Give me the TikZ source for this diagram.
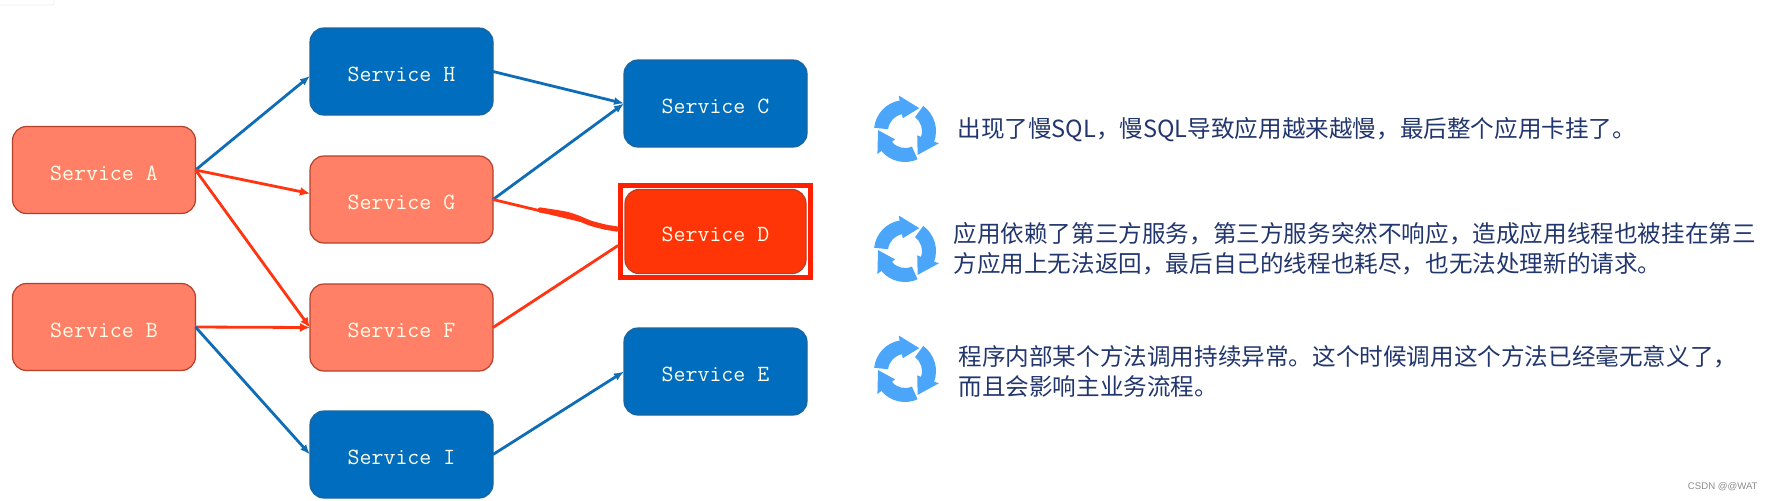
\documentclass[tikz,border=0pt]{standalone}
\usepackage{fontspec}
\setmonofont{Latin Modern Mono}
\newfontfamily\cjkfont{Noto Sans CJK SC}
\newfontfamily\markfont{Liberation Sans}
\usetikzlibrary{arrows.meta,positioning,fit}
\definecolor{svcblue}{HTML}{006DBE}
\definecolor{svcblueline}{HTML}{1A65A0}
\definecolor{svcorange}{HTML}{FF8066}
\definecolor{svcorangeline}{HTML}{B5402A}
\definecolor{svcred}{HTML}{FF3508}
\definecolor{lineblue}{HTML}{0F6DB8}
\definecolor{linered}{HTML}{FF3410}
\definecolor{framered}{HTML}{FF2000}
\definecolor{iconblue}{HTML}{4BA6FA}
\definecolor{textnavy}{HTML}{22366E}
\begin{document}
\begin{tikzpicture}[
				x=0.5pt, y=-0.5pt,
				box/.style={draw, rounded corners=7pt, minimum height=43.5pt, minimum width=91.5pt, outer sep=0pt, align=center, line width=0.6pt, text=white!92!yellow, text height=10pt, text depth=0pt, font=\ttfamily\fontsize{11.6}{13}\selectfont},
				bluebox/.style={box, fill=svcblue, draw=svcblueline},
				orangebox/.style={box, fill=svcorange, draw=svcorangeline},
				redbox/.style={box, fill=svcred, draw=svcorangeline, minimum height=42pt, minimum width=90.5pt},
				framebox/.style={draw=framered, line width=2.5pt, inner sep=2.2pt, outer sep=1.25pt},
				note/.style={anchor=west, align=left, inner sep=0pt, text=textnavy, font=\cjkfont\fontsize{11.8}{15}\selectfont},
				arrblue/.style={-{Latex[length=5pt,width=4pt]}, line width=1.4pt, draw=lineblue},
				arrred/.style={-{Latex[length=5pt,width=4.5pt]}, line width=1.4pt, draw=linered},
				linkred/.style={line width=1.4pt, draw=linered},
				scribble/.style={line width=2.6pt, draw=linered, line cap=round},
				cycleicon/.pic={
					\foreach \ang in {0,120,240} {
						\fill[iconblue, rotate=\ang] (174:15.5pt) arc[start angle=174, end angle=100, radius=15.5pt] -- (100:18pt) -- (58:13.5pt) -- (100:6.5pt) -- (100:8.5pt) arc[start angle=100, end angle=174, radius=8.5pt] -- cycle;
					}
				}
			]
				\useasboundingbox (0,0) rectangle (1769,500);
				\draw[gray!15, rounded corners=1pt] (-4,5) -- (54,5) -- (54,-4);
				
				\node[orangebox] (a) at (104,170) {Service A};
				\node[orangebox, below=35pt of a] (b) {Service B};
				\node[bluebox] (h) at (401.5,71.5) {Service H};
				\node[orangebox, below=20.5pt of h] (g) {Service G};
				\node[orangebox, below=20.5pt of g] (f) {Service F};
				\node[bluebox, below=20pt of f] (i) {Service I};
				\node[bluebox, right=65.5pt of h, yshift=-16pt] (c) {Service C};
				\node[redbox, right=66pt of g, yshift=-16pt] (d) {Service D};
				\node[bluebox, right=65.5pt of f, yshift=-22pt] (e) {Service E};
				\node[framebox, fit=(d)] (dframe) {};
				
				\draw[arrblue] (a.east) -- ([yshift=-2.2pt]h.west);
				\draw[arrred] (a.east) -- ([yshift=3pt]g.west);
				\draw[arrred] (a.east) -- (f.west);
				\draw[arrred] (b.east) -- (f.west);
				\draw[arrblue] (b.east) -- (i.west);
				\draw[arrblue] (h.east) -- (c.west);
				\draw[arrblue] (g.east) -- (c.west);
				\draw[arrblue] (i.east) -- (e.west);
				\draw[linkred] (g.east) -- ([yshift=1pt]dframe.west);
				\draw[linkred] (f.east) -- ([yshift=-7pt]dframe.west);
				\draw[scribble] plot[smooth] coordinates {(540,210) (565,214) (578,218) (590,223) (605,227) (617,229)};
				
				\pic (icona) at (905,131) {cycleicon};
				\pic (iconb) at (905,251) {cycleicon};
				\pic (iconc) at (905,371) {cycleicon};
				\node[note] (nslow) at (957,130) {出现了慢SQL，慢SQL导致应用越来越慢，最后整个应用卡挂了。};
				\node[note] (nthird) at (953,249) {应用依赖了第三方服务，第三方服务突然不响应，造成应用线程也被挂在第三\\方应用上无法返回，最后自己的线程也耗尽，也无法处理新的请求。};
				\node[note] (nerror) at (958,371) {程序内部某个方法调用持续异常。这个时候调用这个方法已经毫无意义了，\\而且会影响主业务流程。};
				\node[anchor=east, inner sep=0pt, text=black!45, font=\markfont\fontsize{4.8}{6}\selectfont] (wmark) at (1758,487) {CSDN @@WAT};
			\end{tikzpicture}
\end{document}
